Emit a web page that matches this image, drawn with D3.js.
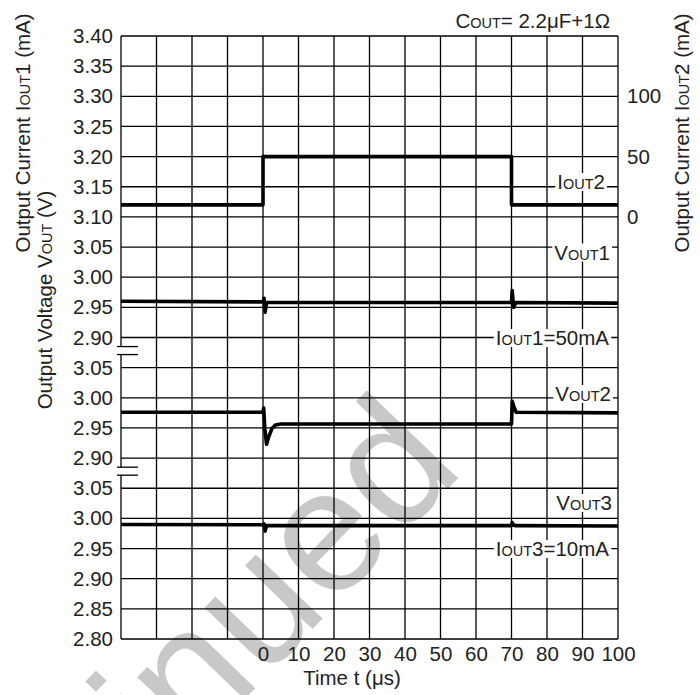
<!DOCTYPE html>
<html>
<head>
<meta charset="utf-8">
<script src="https://cdn.jsdelivr.net/npm/d3@7"></script>
<style>
  body { margin: 0; background: #fff; }
  svg text { font-family: 'Liberation Sans', Arial, sans-serif; fill: #222; }
</style>
</head>
<body>
<div id="chart"></div>
<script>
// time axis (us)
var timeTicks = [0, 10, 20, 30, 40, 50, 60, 70, 80, 90, 100];

// left axis tick labels, one list per band (V)
var band1Ticks = [3.40, 3.35, 3.30, 3.25, 3.20, 3.15, 3.10, 3.05, 3.00, 2.95, 2.90];
var band2Ticks = [3.05, 3.00, 2.95, 2.90];
var band3Ticks = [3.05, 3.00, 2.95, 2.90, 2.85, 2.80];

// right axis tick labels (mA)
var iout2Ticks = [0, 50, 100];

// IOUT2 load step (mA)
var iout2T = [-40, 0, 0, 70, 70, 100];
var iout2V = [10, 10, 50, 50, 10, 10];

// VOUT1 (V)
var vout1T = [-40, 0, 0.3, 0.6, 1.0, 70, 70.2, 70.6, 71.2, 100];
var vout1V = [2.960, 2.959, 2.965, 2.942, 2.958, 2.958, 2.978, 2.950, 2.958, 2.957];

// VOUT2 (V)
var vout2T = [-40, 0, 0.2, 0.5, 1.0, 1.6, 2.5, 3.5, 5, 70, 70.2, 70.7, 71.3, 100];
var vout2V = [2.976, 2.976, 2.983, 2.950, 2.923, 2.935, 2.949, 2.955, 2.9565, 2.9565, 2.994, 2.985, 2.976, 2.975];

// VOUT3 (V)
var vout3T = [-40, 0, 0.3, 0.6, 1.0, 70, 70.2, 70.6, 71, 100];
var vout3V = [2.990, 2.9895, 2.991, 2.979, 2.988, 2.988, 2.993, 2.989, 2.988, 2.9875];

var zip = function (ts, vs) {
  return ts.map(function (t, i) { return { t: t, v: vs[i] }; });
};

var width = 700, height = 695;
var plotL = 121, plotR = 618, plotT = 36, plotB = 639;
var fs = 20.5, subFs = 14.5;

var svg = d3.select('#chart').append('svg')
    .attr('width', width)
    .attr('height', height);

// watermark behind everything
svg.append('text')
    .attr('transform', 'translate(466,470) rotate(-46)')
    .attr('text-anchor', 'end')
    .style('font-size', '175px')
    .style('fill', '#c8c8c8')
    .text('Discontinued');

var x = d3.scaleLinear()
    .domain([-40, 100])
    .range([plotL, plotR]);

// 20 equal rows over the whole plot
var row = d3.scaleLinear()
    .domain([0, 20])
    .range([plotT, plotB]);

var y1 = d3.scaleLinear().domain([3.40, 2.90]).range([row(0), row(10)]);
var y2 = d3.scaleLinear().domain([3.05, 2.90]).range([row(11), row(14)]);
var y3 = d3.scaleLinear().domain([3.05, 2.80]).range([row(15), row(20)]);
var yR = d3.scaleLinear().domain([0, 100]).range([row(6), row(2)]);

var grid = svg.append('g').attr('class', 'grid');

grid.selectAll('.vline')
    .data(d3.range(-40, 101, 10))
    .enter()
    .append('line')
    .attr('x1', function (d) { return x(d); })
    .attr('x2', function (d) { return x(d); })
    .attr('y1', plotT)
    .attr('y2', plotB)
    .style('stroke', '#000')
    .style('stroke-width', 1.3);

grid.selectAll('.hline')
    .data(d3.range(0, 21))
    .enter()
    .append('line')
    .attr('x1', plotL)
    .attr('x2', plotR)
    .attr('y1', function (d) { return row(d); })
    .attr('y2', function (d) { return row(d); })
    .style('stroke', '#000')
    .style('stroke-width', 1.3);

// axis breaks
[10.5, 14.5].forEach(function (k) {
  var yc = row(k) - 2;
  svg.append('rect')
      .attr('x', plotL - 3)
      .attr('y', yc - 4)
      .attr('width', 6)
      .attr('height', 8)
      .style('fill', '#fff');
  [-4, 4].forEach(function (o) {
    svg.append('line')
        .attr('x1', plotL - 4)
        .attr('x2', plotL + 17)
        .attr('y1', yc + o)
        .attr('y2', yc + o)
        .style('stroke', '#000')
        .style('stroke-width', 1.3);
  });
});

var styleAxis = function (g) {
  g.select('.domain').remove();
  g.selectAll('text')
      .style('font-size', fs + 'px')
      .style('fill', '#222');
};

svg.append('g')
    .attr('transform', 'translate(' + plotL + ',0)')
    .call(d3.axisLeft(y1).tickValues(band1Ticks).tickSize(0).tickPadding(8).tickFormat(d3.format('.2f')))
    .call(styleAxis);
svg.append('g')
    .attr('transform', 'translate(' + plotL + ',0)')
    .call(d3.axisLeft(y2).tickValues(band2Ticks).tickSize(0).tickPadding(8).tickFormat(d3.format('.2f')))
    .call(styleAxis);
svg.append('g')
    .attr('transform', 'translate(' + plotL + ',0)')
    .call(d3.axisLeft(y3).tickValues(band3Ticks).tickSize(0).tickPadding(8).tickFormat(d3.format('.2f')))
    .call(styleAxis);
svg.append('g')
    .attr('transform', 'translate(' + plotR + ',0)')
    .call(d3.axisRight(yR).tickValues(iout2Ticks).tickSize(0).tickPadding(9))
    .call(styleAxis);
svg.append('g')
    .attr('transform', 'translate(0,' + plotB + ')')
    .call(d3.axisBottom(x).tickValues(timeTicks).tickSize(0).tickPadding(7))
    .call(styleAxis);

// traces
var traces = [
  { data: zip(iout2T, iout2V), y: yR },
  { data: zip(vout1T, vout1V), y: y1 },
  { data: zip(vout2T, vout2V), y: y2 },
  { data: zip(vout3T, vout3V), y: y3 }
];

traces.forEach(function (tr) {
  var line = d3.line()
      .x(function (d) { return x(d.t); })
      .y(function (d) { return tr.y(d.v); });
  svg.append('path')
      .datum(tr.data)
      .attr('d', line)
      .style('fill', 'none')
      .style('stroke', '#000')
      .style('stroke-width', 3.6)
      .style('stroke-linejoin', 'round')
      .style('stroke-linecap', 'butt');
});

// text with a small-caps style subscript ("OUT")
var richText = function (sel, parts) {
  parts.forEach(function (p, i) {
    sel.append('tspan')
        .style('font-size', (i % 2 === 1 ? subFs : fs) + 'px')
        .text(p);
  });
  return sel;
};

// trace labels: parts, right edge, cap centre
var labels = [
  { parts: ['I', 'OUT', '2'], xr: 605, yc: 182 },
  { parts: ['V', 'OUT', '1'], xr: 610, yc: 252.5 },
  { parts: ['I', 'OUT', '1=50mA'], xr: 609, yc: 338 },
  { parts: ['V', 'OUT', '2'], xr: 611, yc: 394 },
  { parts: ['V', 'OUT', '3'], xr: 612, yc: 503 },
  { parts: ['I', 'OUT', '3=10mA'], xr: 609, yc: 549 }
];

labels.forEach(function (l) {
  var g = svg.append('g');
  var bg = g.append('rect').style('fill', '#fff');
  var t = g.append('text')
      .attr('x', l.xr)
      .attr('y', l.yc + 7.3)
      .attr('text-anchor', 'end');
  richText(t, l.parts);
  var bb = t.node().getBBox();
  bg.attr('x', bb.x - 2)
      .attr('y', l.yc - 9)
      .attr('width', bb.width + 4)
      .attr('height', 18);
});

// COUT note
richText(svg.append('text')
    .attr('x', 610)
    .attr('y', 27.5)
    .attr('text-anchor', 'end'), ['C', 'OUT', '= 2.2\u03bcF+1\u03a9']);

// axis titles
richText(svg.append('text')
    .attr('transform', 'translate(30,133) rotate(-90)')
    .attr('text-anchor', 'middle'), ['Output Current I', 'OUT', '1 (mA)']);

richText(svg.append('text')
    .attr('transform', 'translate(52,300) rotate(-90)')
    .attr('text-anchor', 'middle'), ['Output Voltage V', 'OUT', ' (V)']);

richText(svg.append('text')
    .attr('transform', 'translate(689,133) rotate(-90)')
    .attr('text-anchor', 'middle'), ['Output Current I', 'OUT', '2 (mA)']);

svg.append('text')
    .attr('x', 352)
    .attr('y', 685)
    .attr('text-anchor', 'middle')
    .style('font-size', fs + 'px')
    .text('Time t (\u03bcs)');
</script>
</body>
</html>
